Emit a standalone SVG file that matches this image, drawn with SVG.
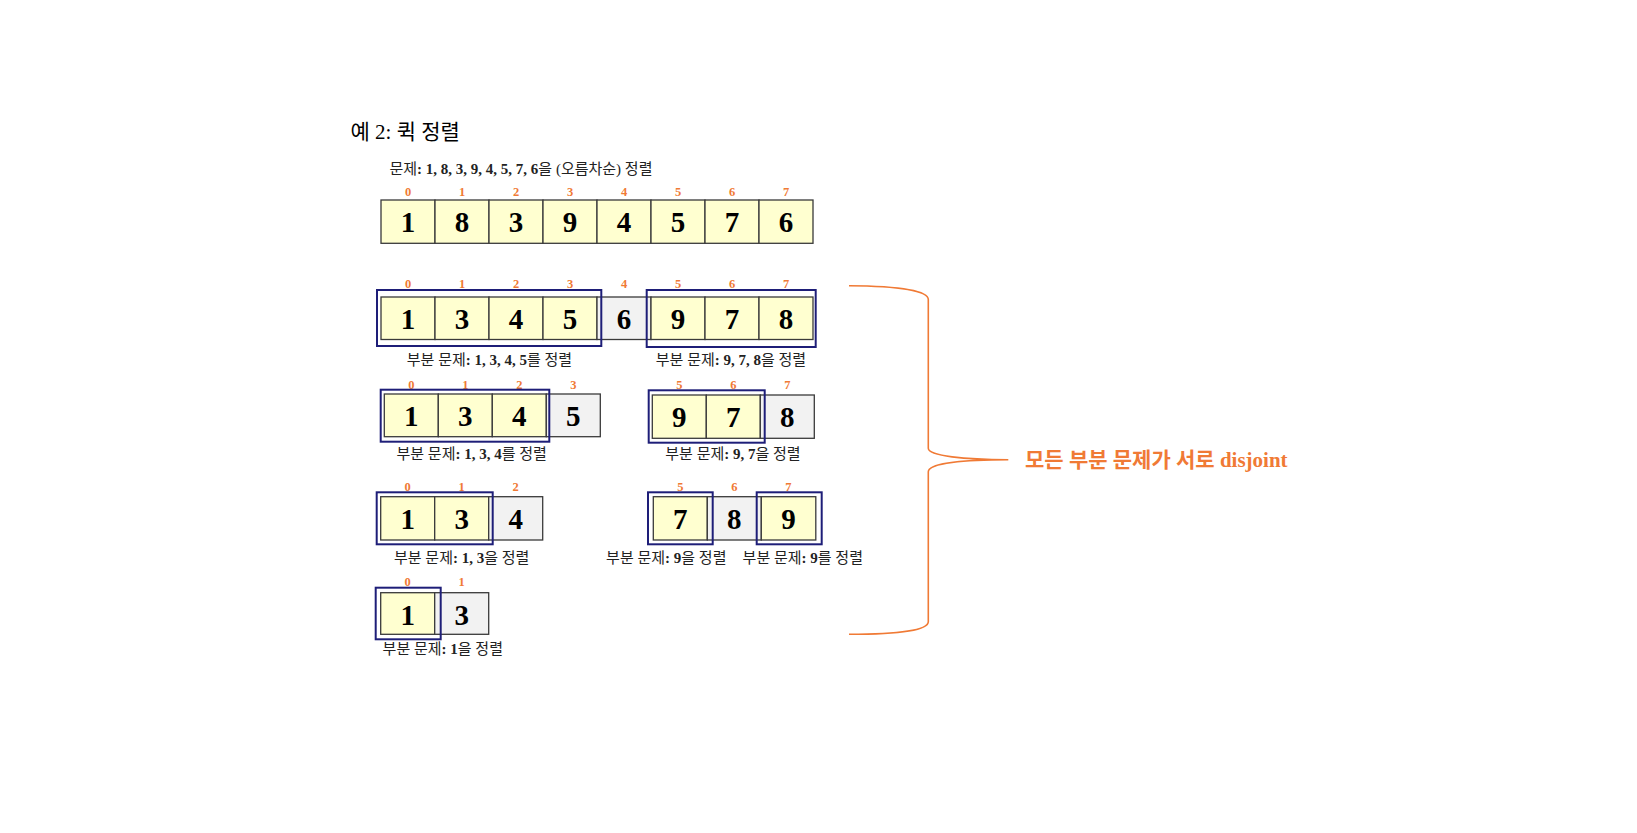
<svg xmlns="http://www.w3.org/2000/svg" width="1637" height="833" viewBox="0 0 1637 833">
<style>
  .bg { fill: #ffffff; }
  .cy { fill: #FFFFD0; stroke: #3a3a3a; stroke-width: 1.3; }
  .cg { fill: #F2F2F2; stroke: #3a3a3a; stroke-width: 1.3; }
  .bl { fill: none; stroke: #1E1E78; stroke-width: 2; }
  .num { font-family: "Liberation Serif", "Times New Roman", serif; font-weight: bold; font-size: 29px; fill: #000; text-anchor: middle; }
  .idx { font-family: "Liberation Serif", "Times New Roman", serif; font-weight: bold; font-size: 12.5px; fill: #F07A35; text-anchor: middle; }
  .lbl { font-family: "Liberation Serif", "Noto Sans CJK KR", serif; font-size: 15px; fill: #222; text-anchor: middle; }
  .b { font-weight: bold; }
  .title { font-family: "Liberation Serif", "Noto Sans CJK KR", serif; font-size: 21px; fill: #000; }
  .sub { font-family: "Liberation Serif", "Noto Sans CJK KR", serif; font-size: 15px; fill: #222; }
  .note { font-family: "Liberation Serif", "Noto Sans CJK KR", serif; font-size: 21px; font-weight: bold; fill: #F07A35; }
  .brace { fill: none; stroke: #F07A35; stroke-width: 1.6; }
</style>
<rect class="bg" x="0" y="0" width="1637" height="833"/>

<g id="title">
  <text class="title" x="350.5" y="139">예 2: 퀵 정렬</text>
  <text class="sub" x="389.5" y="174">문제<tspan class="b">: 1, 8, 3, 9, 4, 5, 7, 6</tspan>을 (오름차순) 정렬</text>
</g>

<g id="row1">
  <rect class="cy" x="381" y="200" width="54" height="43.3"/>
  <rect class="cy" x="435" y="200" width="54" height="43.3"/>
  <rect class="cy" x="489" y="200" width="54" height="43.3"/>
  <rect class="cy" x="543" y="200" width="54" height="43.3"/>
  <rect class="cy" x="597" y="200" width="54" height="43.3"/>
  <rect class="cy" x="651" y="200" width="54" height="43.3"/>
  <rect class="cy" x="705" y="200" width="54" height="43.3"/>
  <rect class="cy" x="759" y="200" width="54" height="43.3"/>
  <text class="idx" x="408" y="195.5">0</text>
  <text class="idx" x="462" y="195.5">1</text>
  <text class="idx" x="516" y="195.5">2</text>
  <text class="idx" x="570" y="195.5">3</text>
  <text class="idx" x="624" y="195.5">4</text>
  <text class="idx" x="678" y="195.5">5</text>
  <text class="idx" x="732" y="195.5">6</text>
  <text class="idx" x="786" y="195.5">7</text>
  <text class="num" x="408" y="232">1</text>
  <text class="num" x="462" y="232">8</text>
  <text class="num" x="516" y="232">3</text>
  <text class="num" x="570" y="232">9</text>
  <text class="num" x="624" y="232">4</text>
  <text class="num" x="678" y="232">5</text>
  <text class="num" x="732" y="232">7</text>
  <text class="num" x="786" y="232">6</text>
</g>

<g id="row2">
  <rect class="cy" x="381" y="297" width="54" height="42.5"/>
  <rect class="cy" x="435" y="297" width="54" height="42.5"/>
  <rect class="cy" x="489" y="297" width="54" height="42.5"/>
  <rect class="cy" x="543" y="297" width="54" height="42.5"/>
  <rect class="cg" x="597" y="297" width="54" height="42.5"/>
  <rect class="cy" x="651" y="297" width="54" height="42.5"/>
  <rect class="cy" x="705" y="297" width="54" height="42.5"/>
  <rect class="cy" x="759" y="297" width="54" height="42.5"/>
  <text class="idx" x="408" y="288.3">0</text>
  <text class="idx" x="462" y="288.3">1</text>
  <text class="idx" x="516" y="288.3">2</text>
  <text class="idx" x="570" y="288.3">3</text>
  <text class="idx" x="624" y="288.3">4</text>
  <text class="idx" x="678" y="288.3">5</text>
  <text class="idx" x="732" y="288.3">6</text>
  <text class="idx" x="786" y="288.3">7</text>
  <text class="num" x="408" y="329">1</text>
  <text class="num" x="462" y="329">3</text>
  <text class="num" x="516" y="329">4</text>
  <text class="num" x="570" y="329">5</text>
  <text class="num" x="624" y="329">6</text>
  <text class="num" x="678" y="329">9</text>
  <text class="num" x="732" y="329">7</text>
  <text class="num" x="786" y="329">8</text>
  <rect class="bl" x="377" y="290" width="224.3" height="56"/>
  <rect class="bl" x="646.7" y="290" width="169" height="57"/>
  <text class="lbl" x="489.5" y="364.5">부분 문제<tspan class="b">: 1, 3, 4, 5</tspan>를 정렬</text>
  <text class="lbl" x="731" y="364.5">부분 문제<tspan class="b">: 9, 7, 8</tspan>을 정렬</text>
</g>

<g id="row3-left">
  <rect class="cy" x="384.3" y="394" width="54" height="42.7"/>
  <rect class="cy" x="438.3" y="394" width="54" height="42.7"/>
  <rect class="cy" x="492.3" y="394" width="54" height="42.7"/>
  <rect class="cg" x="546.3" y="394" width="54" height="42.7"/>
  <text class="idx" x="411.3" y="388.7">0</text>
  <text class="idx" x="465.3" y="388.7">1</text>
  <text class="idx" x="519.3" y="388.7">2</text>
  <text class="idx" x="573.3" y="388.7">3</text>
  <text class="num" x="411.3" y="426.3">1</text>
  <text class="num" x="465.3" y="426.3">3</text>
  <text class="num" x="519.3" y="426.3">4</text>
  <text class="num" x="573.3" y="426.3">5</text>
  <rect class="bl" x="380.7" y="389.7" width="168.6" height="52"/>
  <text class="lbl" x="471.7" y="459">부분 문제<tspan class="b">: 1, 3, 4</tspan>를 정렬</text>
</g>

<g id="row3-right">
  <rect class="cy" x="652.3" y="395" width="54" height="43.3"/>
  <rect class="cy" x="706.3" y="395" width="54" height="43.3"/>
  <rect class="cg" x="760.3" y="395" width="54" height="43.3"/>
  <text class="idx" x="679.3" y="388.7">5</text>
  <text class="idx" x="733.3" y="388.7">6</text>
  <text class="idx" x="787.3" y="388.7">7</text>
  <text class="num" x="679.3" y="427">9</text>
  <text class="num" x="733.3" y="427">7</text>
  <text class="num" x="787.3" y="427">8</text>
  <rect class="bl" x="648.7" y="390.3" width="116" height="52.4"/>
  <text class="lbl" x="733" y="459">부분 문제<tspan class="b">: 9, 7</tspan>을 정렬</text>
</g>

<g id="row4-left">
  <rect class="cy" x="380.7" y="496.7" width="54" height="43.3"/>
  <rect class="cy" x="434.7" y="496.7" width="54" height="43.3"/>
  <rect class="cg" x="488.7" y="496.7" width="54" height="43.3"/>
  <text class="idx" x="407.7" y="491">0</text>
  <text class="idx" x="461.7" y="491">1</text>
  <text class="idx" x="515.7" y="491">2</text>
  <text class="num" x="407.7" y="529">1</text>
  <text class="num" x="461.7" y="529">3</text>
  <text class="num" x="515.7" y="529">4</text>
  <rect class="bl" x="376.7" y="492.3" width="116" height="52"/>
  <text class="lbl" x="461.7" y="563">부분 문제<tspan class="b">: 1, 3</tspan>을 정렬</text>
</g>

<g id="row4-right">
  <rect class="cy" x="653.3" y="496.7" width="54" height="43.3"/>
  <rect class="cg" x="707.3" y="496.7" width="54" height="43.3"/>
  <rect class="cy" x="761.3" y="496.7" width="54.5" height="43.3"/>
  <text class="idx" x="680.3" y="491">5</text>
  <text class="idx" x="734.3" y="491">6</text>
  <text class="idx" x="788.3" y="491">7</text>
  <text class="num" x="680.3" y="529">7</text>
  <text class="num" x="734.3" y="529">8</text>
  <text class="num" x="788.5" y="529">9</text>
  <rect class="bl" x="648" y="492.3" width="64.7" height="52"/>
  <rect class="bl" x="756.7" y="492.3" width="65" height="52"/>
  <text class="lbl" x="666.3" y="563">부분 문제<tspan class="b">: 9</tspan>을 정렬</text>
  <text class="lbl" x="802.8" y="563">부분 문제<tspan class="b">: 9</tspan>를 정렬</text>
</g>

<g id="row5">
  <rect class="cy" x="380.7" y="592.7" width="54" height="41.6"/>
  <rect class="cg" x="434.7" y="592.7" width="54" height="41.6"/>
  <text class="idx" x="407.7" y="586">0</text>
  <text class="idx" x="461.7" y="586">1</text>
  <text class="num" x="407.7" y="624.5">1</text>
  <text class="num" x="461.7" y="624.5">3</text>
  <rect class="bl" x="375.7" y="587.7" width="65" height="51.6"/>
  <text class="lbl" x="442.8" y="654">부분 문제<tspan class="b">: 1</tspan>을 정렬</text>
</g>

<g id="connectors">
  <path class="brace" d="M849,285.7 C900,286 928.3,291 928.3,299.5 L928.3,448.3 C928.3,456 965,459.7 1008.3,459.7 C965,459.7 928.3,463 928.3,471.7 L928.3,621.7 C928.3,630 900,634.3 849,634.3"/>
</g>

<g id="note">
  <text class="note" x="1025" y="467">모든 부분 문제가 서로 disjoint</text>
</g>
</svg>
